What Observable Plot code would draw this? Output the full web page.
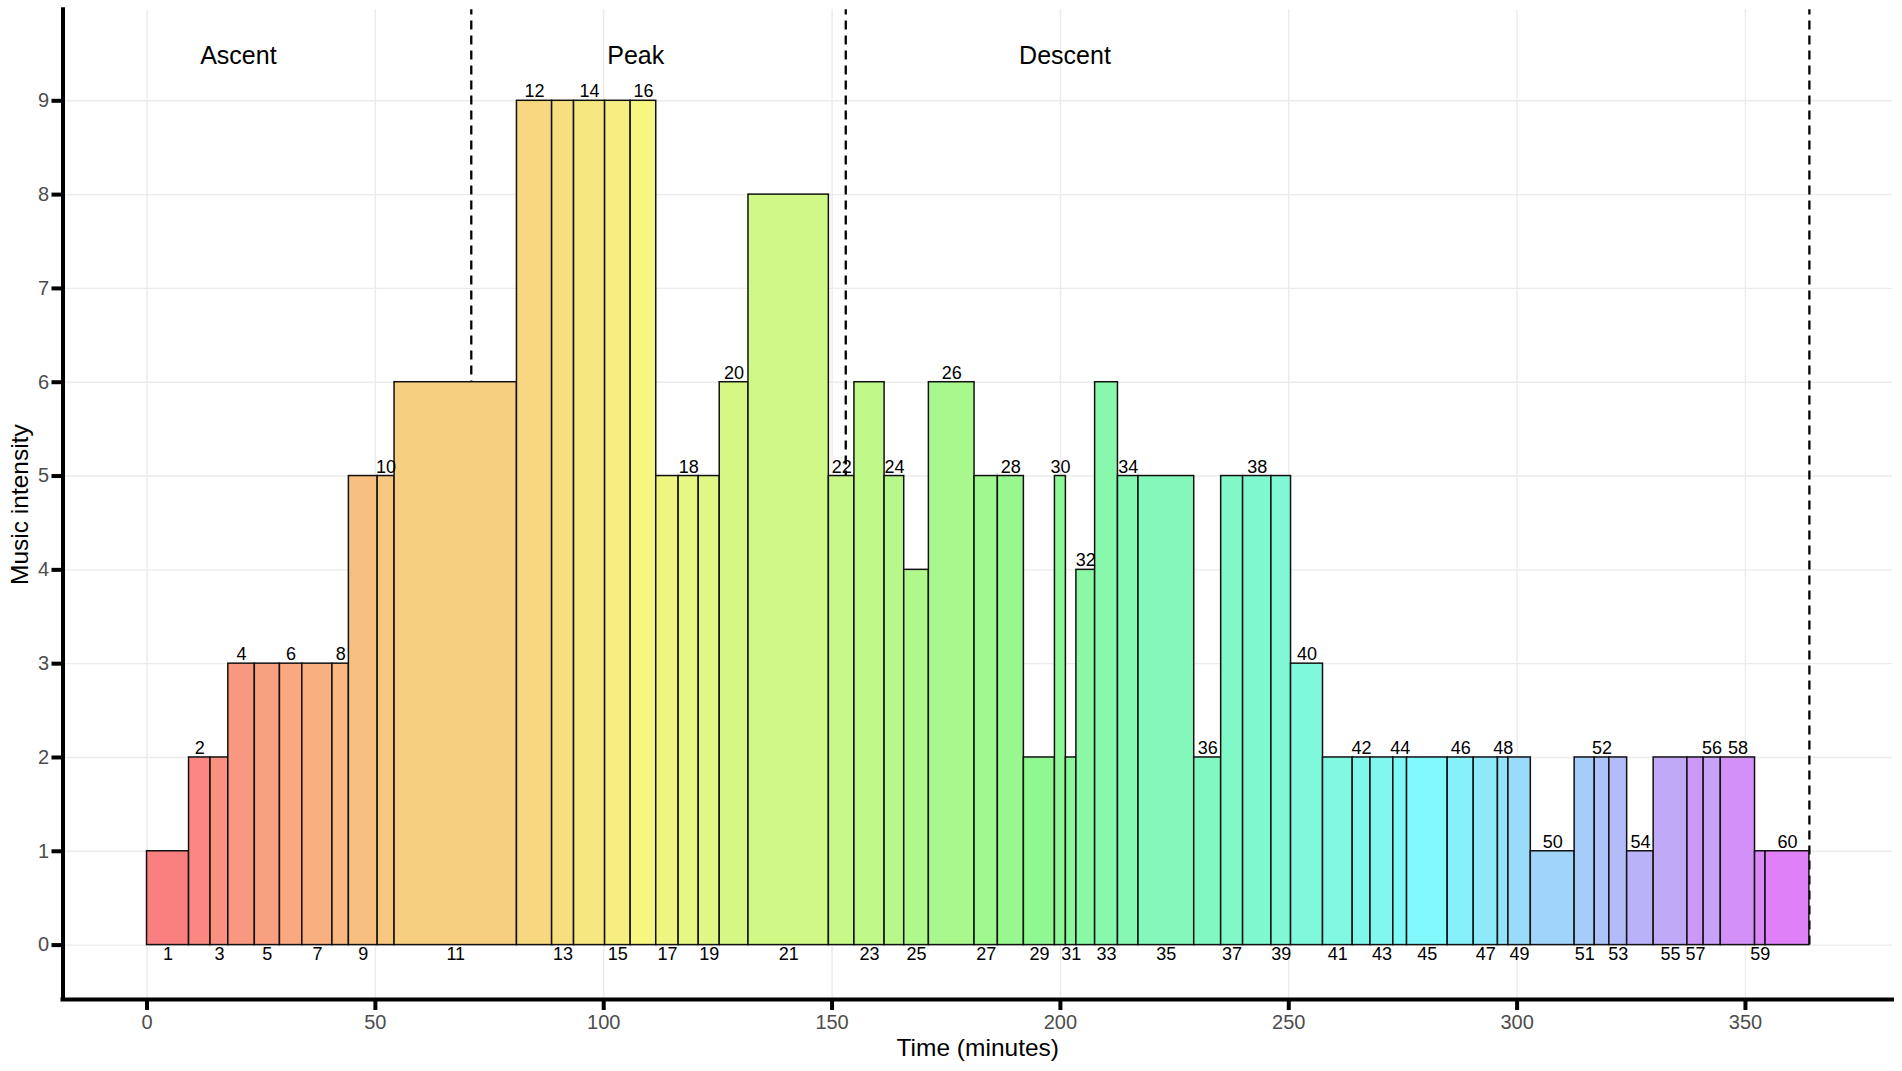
<!DOCTYPE html>
<html>
<head>
<meta charset="utf-8">
<script src="https://cdn.jsdelivr.net/npm/d3@7"></script>
<script src="https://cdn.jsdelivr.net/npm/@observablehq/plot@0.6"></script>
<style>
  html, body { margin: 0; padding: 0; background: #ffffff; }
  #chart { width: 1902px; height: 1071px; }
</style>
</head>
<body>
<div id="chart"></div>
<script>
// ---- data ----
const tracks = [1,2,3,4,5,6,7,8,9,10,11,12,13,14,15,16,17,18,19,20,21,22,23,24,25,26,27,28,29,30,
                31,32,33,34,35,36,37,38,39,40,41,42,43,44,45,46,47,48,49,50,51,52,53,54,55,56,57,58,59,60];
const startMin = [0, 9.2, 13.9, 17.8, 23.6, 29.1, 34.0, 40.6, 44.2, 50.5,
                  54.2, 81.0, 88.7, 93.5, 100.3, 105.9, 111.5, 116.4, 120.8, 125.4,
                  131.7, 149.3, 154.9, 161.5, 165.8, 171.2, 181.2, 186.3, 192.0, 198.8,
                  201.2, 203.5, 207.6, 212.6, 217.1, 229.3, 235.2, 240.0, 246.2, 250.5,
                  257.5, 264.0, 267.9, 272.9, 275.9, 284.8, 290.5, 295.8, 298.1, 303.0,
                  312.6, 317.0, 320.2, 324.1, 329.9, 340.8, 337.3, 344.6, 352.1, 354.4];
const endMin = [9.2, 13.9, 17.8, 23.6, 29.1, 34.0, 40.6, 44.2, 50.5, 54.2,
                81.0, 88.7, 93.5, 100.3, 105.9, 111.5, 116.4, 120.8, 125.4, 131.7,
                149.3, 154.9, 161.5, 165.8, 171.2, 181.2, 186.3, 192.0, 198.8, 201.2,
                203.5, 207.6, 212.6, 217.1, 229.3, 235.2, 240.0, 246.2, 250.5, 257.5,
                264.0, 267.9, 272.9, 275.9, 284.8, 290.5, 295.8, 298.1, 303.0, 312.6,
                317.0, 320.2, 324.1, 329.9, 337.3, 344.6, 340.8, 352.1, 354.4, 364.0];
const intensity = [1,2,2,3,3,3,3,3,5,5, 6,9,9,9,9,9,5,5,5,6,
                   8,5,6,5,4,6,5,5,2,5, 2,4,6,5,5,2,5,5,5,3,
                   2,2,2,2,2,2,2,2,2,1, 2,2,2,1,2,2,2,2,1,1];

const phaseNames = ["Ascent", "Peak", "Descent"];
const phaseLabelX = [20, 107, 201];
const phaseBoundaries = [71.0, 153.0, 364.0];

const xTicks = [0, 50, 100, 150, 200, 250, 300, 350];
const yTicks = [0, 1, 2, 3, 4, 5, 6, 7, 8, 9];

// colour ramp by track number
const colorStops = [1, 8, 16, 22, 29, 37, 45, 50, 55, 60];
const colorValues = ["#FA8080", "#F8B880", "#F6F680", "#C8F888", "#90F890",
                     "#80F8C8", "#80F8FC", "#A0D4F8", "#C0AAF8", "#E080F8"];
const trackColor = d3.scaleLinear().domain(colorStops).range(colorValues).interpolate(d3.interpolateRgb);

const data = tracks.map((t, i) => ({
  track: t, start: startMin[i], end: endMin[i], intensity: intensity[i],
  mid: (startMin[i] + endMin[i]) / 2
}));
const phases = phaseNames.map((n, i) => ({name: n, x: phaseLabelX[i]}));

const xDomain = [-18.4, 382.2];
const yDomain = [-0.58, 9.97];
const font = "'Liberation Sans', Arial, Helvetica, sans-serif";

const chart = Plot.plot({
  width: 1902,
  height: 1071,
  marginLeft: 62.5,
  marginRight: 10,
  marginTop: 9.3,
  marginBottom: 72,
  style: {fontFamily: font, background: "#ffffff", color: "#000000"},
  x: {domain: xDomain},
  y: {domain: yDomain},
  color: {type: "identity"},
  marks: [
    Plot.gridX(xTicks, {stroke: "#EBEBEB", strokeOpacity: 1, strokeWidth: 1.4}),
    Plot.gridY(yTicks, {stroke: "#EBEBEB", strokeOpacity: 1, strokeWidth: 1.4}),
    Plot.ruleX(phaseBoundaries, {y1: 0, y2: yDomain[1], stroke: "#000", strokeWidth: 2.3, strokeDasharray: "9,6"}),
    Plot.rect(data, {
      x1: "start", x2: "end", y1: 0, y2: "intensity",
      fill: d => trackColor(d.track),
      stroke: "#111111", strokeWidth: 1.5
    }),
    Plot.text(data.filter(d => d.track % 2 === 0), {
      x: "mid", y: "intensity", text: d => String(d.track),
      lineAnchor: "bottom", dy: -3.5, fontSize: 18, fill: "#000"
    }),
    Plot.text(data.filter(d => d.track % 2 === 1), {
      x: "mid", y: 0, text: d => String(d.track),
      lineAnchor: "top", dy: 2.5, fontSize: 18, fill: "#000"
    }),
    Plot.text(phases, {
      x: "x", y: 9.39, text: "name", lineAnchor: "bottom",
      fontSize: 25, fill: "#000"
    }),
    Plot.ruleX([xDomain[0]], {stroke: "#000", strokeWidth: 4, strokeLinecap: "square"}),
    Plot.ruleY([yDomain[0]], {stroke: "#000", strokeWidth: 4, strokeLinecap: "square"}),
    Plot.axisX({ticks: xTicks, tickSize: 11, tickPadding: 4, stroke: "#000", strokeWidth: 4,
                fill: "#4D4D4D", fontSize: 20, label: null}),
    Plot.axisY({ticks: yTicks, tickSize: 11, tickPadding: 3, stroke: "#000", strokeWidth: 4,
                fill: "#4D4D4D", fontSize: 20, label: null}),
    Plot.text(["Time (minutes)"], {frameAnchor: "bottom", textAnchor: "middle", lineAnchor: "bottom", dy: 56,
                fontSize: 24.5, fill: "#000"}),
    Plot.text(["Music intensity"], {frameAnchor: "left", textAnchor: "middle", rotate: -90, lineAnchor: "bottom",
                dx: -35.5, fontSize: 24.5, fill: "#000"})
  ]
});
document.getElementById("chart").appendChild(chart);
</script>
</body>
</html>
